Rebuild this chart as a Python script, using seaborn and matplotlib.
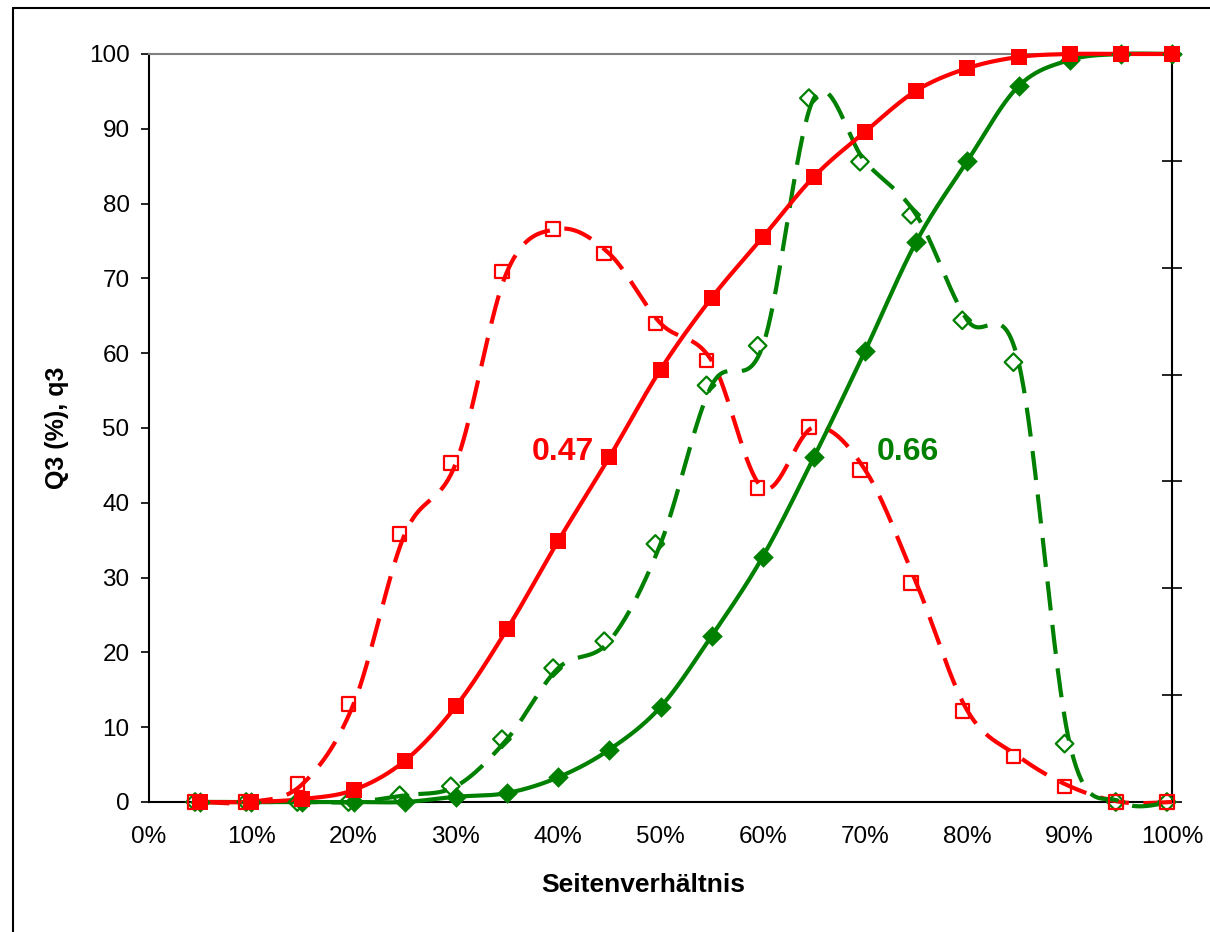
import numpy as np
import matplotlib
matplotlib.use("Agg")
import matplotlib.pyplot as plt
from matplotlib.lines import Line2D
import seaborn as sns

# Seitenverhältnis classes (%)
ratio = [5, 10, 15, 20, 25, 30, 35, 40, 45, 50, 55, 60, 65, 70, 75, 80, 85, 90, 95, 100]

# cumulative distribution Q3 (%) and density q3, sample 0.47
Q3_047 = [0, 0, 0.4, 1.6, 5.5, 12.8, 23.1, 34.9, 46.1, 57.8, 67.4, 75.5, 83.6, 89.6,
          95.1, 98.1, 99.6, 100, 100, 100]
q3_047 = [0, 0, 2.4, 13.1, 35.8, 45.3, 70.9, 76.6, 73.3, 64.0, 59.0, 42.0, 50.1, 44.4,
          29.3, 12.2, 6.1, 2.1, 0, 0]

# cumulative distribution Q3 (%) and density q3, sample 0.66
Q3_066 = [0, 0, 0, 0, 0, 0.7, 1.2, 3.3, 7.0, 12.7, 22.2, 32.8, 46.1, 60.3, 74.9, 85.7,
          95.7, 99.2, 100, 100]
q3_066 = [0, 0, 0, 0, 0.9, 2.1, 8.4, 17.9, 21.5, 34.5, 55.7, 61.0, 94.1, 85.6, 78.5,
          64.4, 58.8, 7.8, 0, 0]

labels = ["0.47", "0.66"]
label_pos = [(40.5, 46.8), (74.2, 46.8)]

RED = "#FF0000"
GREEN = "#008000"


def smooth(x, y, n=40):
    """Catmull-Rom style cubic Bezier smoothing through every point."""
    x = np.asarray(x, float)
    y = np.asarray(y, float)
    px = np.concatenate([[x[0]], x, [x[-1]]])
    py = np.concatenate([[y[0]], y, [y[-1]]])
    xs, ys = [], []
    t = np.linspace(0, 1, n)
    for i in range(1, len(px) - 2):
        p0 = np.array([px[i - 1], py[i - 1]])
        p1 = np.array([px[i], py[i]])
        p2 = np.array([px[i + 1], py[i + 1]])
        p3 = np.array([px[i + 2], py[i + 2]])
        b1 = p1 + (p2 - p0) / 6.0
        b2 = p2 - (p3 - p1) / 6.0
        pts = ((1 - t) ** 3)[:, None] * p1 + (3 * (1 - t) ** 2 * t)[:, None] * b1 \
            + (3 * (1 - t) * t ** 2)[:, None] * b2 + (t ** 3)[:, None] * p2
        xs.extend(pts[:, 0])
        ys.extend(pts[:, 1])
    return np.array(xs), np.array(ys)


sns.set_theme(style="white")
plt.rcParams["font.family"] = ["Liberation Sans", "DejaVu Sans"]
plt.rcParams["text.color"] = "black"
plt.rcParams["axes.labelcolor"] = "black"

fig = plt.figure(figsize=(12.10, 9.32), dpi=100)
ax = fig.add_axes([149 / 1210, 1 - 802 / 932, (1172 - 149) / 1210, (802 - 54) / 932])

# smoothed curves
dash = (7, 3.5)
for ys, col, ls, z in [(q3_047, RED, "dash", 3), (q3_066, GREEN, "dash", 3),
                       (Q3_066, GREEN, "solid", 4), (Q3_047, RED, "solid", 5)]:
    sx, sy = smooth(ratio, ys)
    sns.lineplot(x=sx, y=sy, ax=ax, color=col, lw=3.0, sort=False,
                 estimator=None, zorder=z)
    l = ax.lines[-1]
    l.set_clip_on(False)
    if ls == "dash":
        l.set_dashes(dash)
        l.set_dash_capstyle("butt")

# markers: filled for Q3, hollow for q3 (hollow set slightly to the left)
shift = 0.5
xr = np.asarray(ratio, float)
sns.scatterplot(x=xr, y=Q3_047, ax=ax, marker="s", s=140, color=RED,
                edgecolor=RED, linewidth=0, zorder=6, clip_on=False)
sns.scatterplot(x=xr, y=Q3_066, ax=ax, marker="D", s=110, color=GREEN,
                edgecolor=GREEN, linewidth=0, zorder=5, clip_on=False)
sns.scatterplot(x=xr - shift, y=q3_047, ax=ax, marker="s", s=95, facecolor="none",
                edgecolor=RED, linewidth=1.6, zorder=6, clip_on=False)
sns.scatterplot(x=xr - shift, y=q3_066, ax=ax, marker="D", s=80, facecolor="none",
                edgecolor=GREEN, linewidth=1.6, zorder=5, clip_on=False)

for txt, (lx, ly), col in zip(labels, label_pos, [RED, GREEN]):
    ax.text(lx, ly, txt, color=col, fontsize=23, fontweight="bold",
            ha="center", va="center", zorder=7)

ax.set_xlim(0, 100)
ax.set_ylim(0, 100)
ax.set_xticks(range(0, 101, 10))
ax.set_xticklabels([f"{v}%" for v in range(0, 101, 10)])
ax.set_yticks(range(0, 101, 10))
ax.tick_params(axis="both", which="major", labelsize=17.5, direction="out",
               length=6, width=1.2, color="black", labelcolor="black")
ax.tick_params(axis="x", pad=11)
ax.tick_params(axis="y", pad=8)
ax.set_xlabel("Seitenverhältnis", fontsize=19, fontweight="bold")
ax.xaxis.set_label_coords((643 - 149) / (1172 - 149), -(885 - 802) / (802 - 54))
ax.xaxis.label.set_va("center")
ax.set_ylabel("Q3 (%), q3", fontsize=18, fontweight="bold", labelpad=14)

for side in ["left", "bottom"]:
    ax.spines[side].set_color("black")
    ax.spines[side].set_linewidth(1.5)
ax.spines["top"].set_color("#808080")
ax.spines["top"].set_linewidth(1.5)
ax.spines["right"].set_visible(False)

# secondary axis on the right: tick marks only
ax2 = ax.twinx()
ax2.set_ylim(0, 7)
ax2.set_yticks(range(8))
ax2.set_yticklabels([])
ax2.tick_params(axis="y", direction="inout", length=14, width=1.2, color="black")
for side in ["left", "top", "bottom"]:
    ax2.spines[side].set_visible(False)
ax2.spines["right"].set_color("black")
ax2.spines["right"].set_linewidth(1.5)
ax2.grid(False)
ax.grid(False)
ax.set_zorder(ax2.get_zorder() + 1)
ax.patch.set_visible(False)

# figure frame
fig.add_artist(Line2D([13 / 1210, 1.0], [1 - 8 / 932, 1 - 8 / 932], color="black",
                      lw=1.5, transform=fig.transFigure))
fig.add_artist(Line2D([13 / 1210, 13 / 1210], [0.0, 1 - 8 / 932], color="black",
                      lw=1.5, transform=fig.transFigure))

fig.savefig("out.png", dpi=100)
